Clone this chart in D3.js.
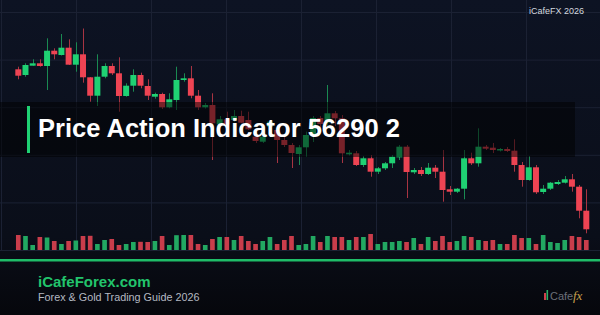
<!DOCTYPE html>
<html>
<head>
<meta charset="utf-8">
<script src="https://cdn.jsdelivr.net/npm/d3@7"></script>
<style>
  html, body { margin: 0; padding: 0; background: #080a12; }
  #chart svg { display: block; }
</style>
</head>
<body>
<div id="chart"></div>
<script>
// candle data (price units), one entry per bar
const opens  = [230.7,225,234.3,236.7,234,249.3,245,252.3,235.3,245.7,222.7,204.3,223.3,234,226.7,204,214.3,225,214,203.3,
                206,192.7,200,220,221.7,204.3,192.7,195,175.7,180.7,180,184,180,163.3,158.3,173.3,170,160,155,146,
                152.7,165,182,177.3,186.7,181.7,145.7,146.7,135,141.7,128.3,131.7,136.7,142.7,153.3,127.7,130,126,132.3,128.3,
                110.7,108.3,111.3,141.7,136.7,153.3,152.3,149.7,151,149.3,135,120,132.7,108,111.3,116,117.3,120.7,113.3,89.3];
const highs  = [233.3,236.7,240.7,240.7,261.7,251.7,266,260.7,257.7,271.5,223,245.7,236.7,236.7,242.7,216.7,230.7,227.3,220.7,207.3,
                207.3,206.7,233.3,226.7,234,210,197,206.7,184,188.3,190,189.3,188.3,170,165,180,175,163,157,155,
                168.3,184,184,215,189,185,150,149,144,145,133,138,145,155,155,132,133,137,135,150,
                114,112,150,147.3,171.7,155,157,152,153,160.7,138,144,135,115,118,120,124,126,115,110.7];
const lows   = [220.7,223.3,234.3,233.3,210,240.7,244.5,235,228.3,217.3,198.3,194,221.7,225,188.3,203.3,208.3,211.7,200,201.3,
                191,191.7,190,218.3,201.7,190,191.5,140,173.3,175,178.3,176.7,170,157,157,172,137,153,132,135,
                143.3,158,172,174,174,137,144.5,134,133,123.3,126,130,132,140,102,126,124,125,122,98.3,
                105,107,100.7,135,133.3,150,147,148.5,148,128.3,113.3,119.3,106,106,110,115,116.5,108.3,81.7,66.7];
const closes = [224.3,235,236.7,234,249.3,245.7,252.3,235.3,245.7,222.7,204.3,223.3,234,226.7,204,214.3,225,214.3,204.3,206,
                192.7,200.7,220,221.7,204.3,192.7,195,176.7,180.7,175.7,184,177.3,170.7,159,163.3,178.3,160,155,147,152.7,
                165,182,176,186.7,181.7,146.7,147.3,135,141.7,128.3,131.7,136.7,143.3,153.3,128,130,126,132.3,128.3,110,
                108.3,111.3,141.7,136.7,153.3,151.3,150,151,149,135,120,132.7,107.7,111.3,117.3,118,120.7,113.3,89.3,70.7];
const volumes = [1500,1400,500,1300,1250,900,600,900,950,1400,1420,600,1000,1100,500,600,800,820,800,900,
                 1400,500,1480,1500,1500,600,500,1100,1300,1300,1000,1400,900,600,900,1300,600,1000,1400,500,
                 600,1400,800,1400,1300,1300,1000,1300,1300,1600,600,800,800,900,800,1200,600,1300,900,1400,
                 800,900,1400,1300,1000,900,1000,600,600,1500,1200,1200,600,1500,800,700,1000,1400,1300,1000];

const titleText = "Price Action Indicator 56290 2";
const brandText = "iCafeForex.com";
const subText = "Forex & Gold Trading Guide 2026";
const cornerText = "iCafeFX 2026";

function PriceChart() {
  const W = 600, H = 315;
  const green = "#1fd173", red = "#ee4453";

  const bars = opens.map(function(o, i) {
    return {i: i, o: o, h: highs[i], l: lows[i], c: closes[i], v: volumes[i]};
  });

  const svg = d3.select("#chart")
                .append("svg")
                .attr("width", W)
                .attr("height", H);

  // background gradient
  const defs = svg.append("defs");
  const grad = defs.append("linearGradient")
                   .attr("id", "bg")
                   .attr("x1", 0).attr("y1", 0).attr("x2", 0).attr("y2", 1);
  grad.append("stop").attr("offset", "0%").attr("stop-color", "#0d1323");
  grad.append("stop").attr("offset", "75%").attr("stop-color", "#0a0e19");
  grad.append("stop").attr("offset", "100%").attr("stop-color", "#06070c");
  svg.append("rect")
     .attr("width", W).attr("height", H)
     .attr("fill", "url(#bg)");

  // scales
  const xScale = d3.scaleBand()
                   .domain(d3.range(bars.length))
                   .range([14.7, 589.9])
                   .paddingInner(0.17)
                   .paddingOuter(0.085);
  const yScale = d3.scaleLinear()
                   .domain([50, 300])
                   .range([250, 0]);
  const vScale = d3.scaleLinear()
                   .domain([0, 1600])
                   .range([250, 234]);

  // grid
  const gx = d3.scaleLinear().domain([0, 8]).range([1, 601]);
  const gy = d3.scaleLinear().domain([0, 5]).range([12, 250]);
  svg.append("g")
     .attr("transform", "translate(0,250)")
     .call(d3.axisBottom(gx).ticks(8).tickSize(-250).tickFormat(""))
     .call(function(g) { g.select(".domain").remove(); })
     .selectAll("line")
     .attr("stroke", "#1b2133")
     .attr("stroke-width", 1);
  svg.append("g")
     .call(d3.axisRight(gy).ticks(5).tickSize(W).tickFormat(""))
     .call(function(g) { g.select(".domain").remove(); })
     .selectAll("line")
     .attr("stroke", "#1b2133")
     .attr("stroke-width", 1);

  // volume bars
  const vw = xScale.bandwidth() * 0.78;
  svg.append("g")
     .selectAll("rect")
     .data(bars)
     .enter()
     .append("rect")
     .attr("x", function(d) { return xScale(d.i) + (xScale.bandwidth() - vw) / 2; })
     .attr("y", function(d) { return vScale(d.v); })
     .attr("width", vw)
     .attr("height", function(d) { return vScale(0) - vScale(d.v); })
     .attr("fill", function(d) { return d.c >= d.o ? "#22a862" : "#c93d4b"; });

  // wicks
  svg.append("g")
     .selectAll("line")
     .data(bars)
     .enter()
     .append("line")
     .attr("x1", function(d) { return Math.round(xScale(d.i) + xScale.bandwidth() / 2) + 0.5; })
     .attr("x2", function(d) { return Math.round(xScale(d.i) + xScale.bandwidth() / 2) + 0.5; })
     .attr("y1", function(d) { return yScale(d.h); })
     .attr("y2", function(d) { return yScale(d.l); })
     .attr("stroke", function(d) { return d.c >= d.o ? "#1a8a52" : "#a83442"; })
     .attr("stroke-width", 1);

  // bodies
  svg.append("g")
     .selectAll("rect")
     .data(bars)
     .enter()
     .append("rect")
     .attr("x", function(d) { return xScale(d.i); })
     .attr("y", function(d) { return yScale(Math.max(d.o, d.c)); })
     .attr("width", xScale.bandwidth())
     .attr("height", function(d) { return Math.max(1.5, Math.abs(yScale(d.o) - yScale(d.c))); })
     .attr("fill", function(d) { return d.c >= d.o ? green : red; });

  // title band
  svg.append("rect")
     .attr("x", 0).attr("y", 102)
     .attr("width", 575).attr("height", 55)
     .attr("fill", "#000")
     .attr("opacity", 0.5);
  svg.append("rect")
     .attr("x", 27).attr("y", 106)
     .attr("width", 3).attr("height", 47)
     .attr("fill", green);
  svg.append("text")
     .attr("x", 38).attr("y", 137)
     .attr("font-family", "Liberation Sans, Arial, sans-serif")
     .attr("font-weight", "bold")
     .attr("font-size", 25.5)
     .attr("fill", "#fff")
     .text(titleText);

  svg.append("text")
     .attr("x", 584).attr("y", 14)
     .attr("text-anchor", "end")
     .attr("font-family", "Liberation Sans, Arial, sans-serif")
     .attr("font-size", 9)
     .attr("fill", "#d3d7df")
     .text(cornerText);

  // footer
  svg.append("rect")
     .attr("x", 0).attr("y", 259)
     .attr("width", W).attr("height", 2.5)
     .attr("fill", "#1fbd69");
  svg.append("text")
     .attr("x", 38).attr("y", 287)
     .attr("font-family", "Liberation Sans, Arial, sans-serif")
     .attr("font-weight", "bold")
     .attr("font-size", 15)
     .attr("fill", "#22c46c")
     .text(brandText);
  svg.append("text")
     .attr("x", 38).attr("y", 301)
     .attr("font-family", "Liberation Sans, Arial, sans-serif")
     .attr("font-size", 10.8)
     .attr("fill", "#b5b9c2")
     .text(subText);

  // small logo
  const logo = svg.append("g").attr("transform", "translate(544,289)");
  logo.append("rect").attr("x", 0).attr("y", 4).attr("width", 2).attr("height", 7).attr("fill", "#d0404b");
  logo.append("rect").attr("x", 2.5).attr("y", 1).attr("width", 1.6).attr("height", 10).attr("fill", "#2bb068");
  logo.append("text")
      .attr("x", 6).attr("y", 11)
      .attr("font-family", "Liberation Sans, Arial, sans-serif")
      .attr("font-size", 11)
      .attr("font-weight", 300)
      .attr("fill", "#6b6f78")
      .text("Cafe");
  logo.append("text")
      .attr("x", 29).attr("y", 11)
      .attr("font-family", "Liberation Serif, serif")
      .attr("font-style", "italic")
      .attr("font-size", 13)
      .attr("fill", "#c9a04c")
      .text("fx");
}

function main() {
  PriceChart();
}

window.onload = function() {
  main();
};
</script>
</body>
</html>
